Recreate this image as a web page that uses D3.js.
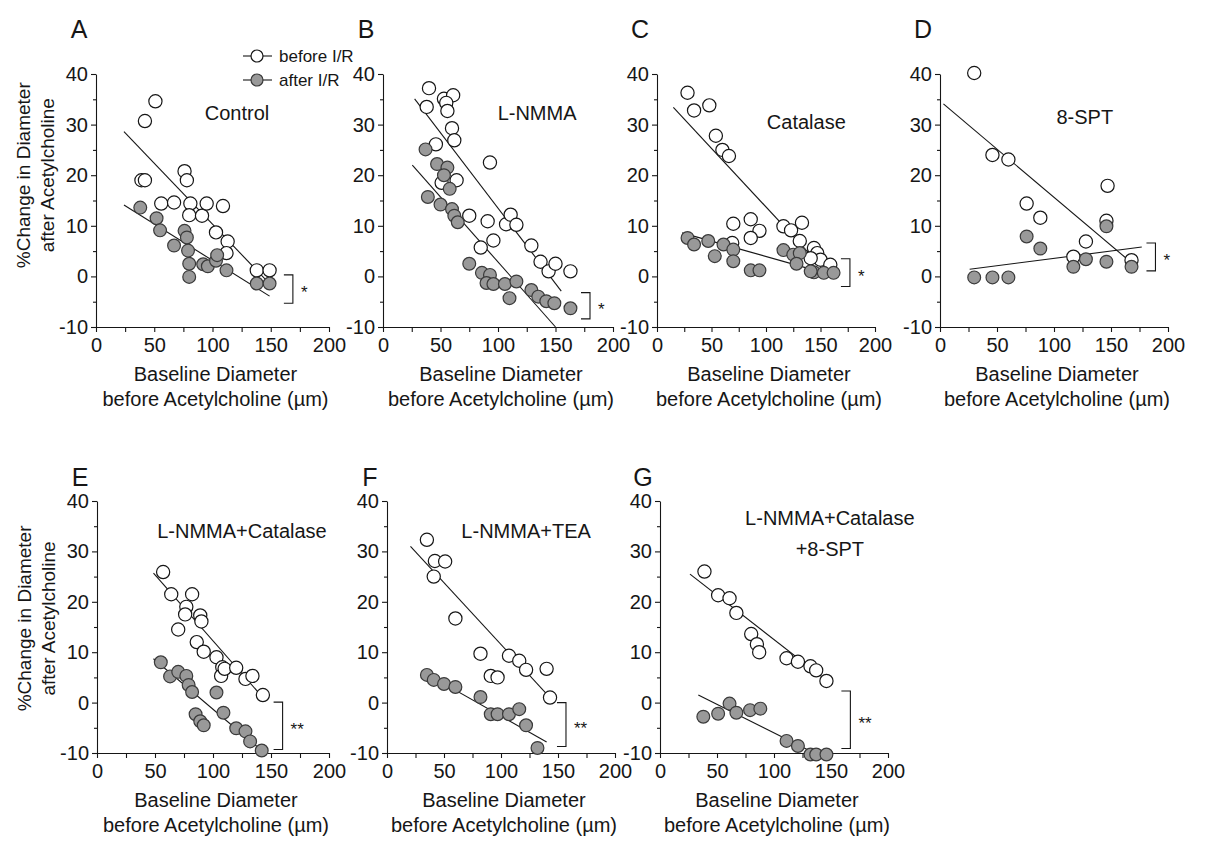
<!DOCTYPE html>
<html><head><meta charset="utf-8">
<script src="https://cdn.jsdelivr.net/npm/d3@7"></script>
<style>
body{margin:0;background:#fff;}
svg{font-family:"Liberation Sans",Arial,Helvetica,sans-serif;}
</style></head><body>
<svg id="chart" width="1215" height="850"></svg>
<script>
// ---------------- DATA ----------------
const panelLetters = ["A","B","C","D","E","F","G"];
const panelNames = [["Control"],["L-NMMA"],["Catalase"],["8-SPT"],["L-NMMA+Catalase"],["L-NMMA+TEA"],["L-NMMA+Catalase","+8-SPT"]];
const seriesNames = ["before I/R","after I/R"];
const xTickLabels = [0,50,100,150,200];
const yTickLabels = [-10,0,10,20,30,40];
const significance = ["*","*","*","*","**","**","**"];

// [baseline diameter (µm), % change]
const beforeA = [[51,34.6],[42,30.7],[39,19],[42,19],[56,14.4],[67,14.6],[76,20.8],[78,19],[81,14.4],[80,12.1],[91,12],[95,14.4],[109,13.9],[103,8.7],[113,6.9],[112,4.6],[138,1.2],[149,1.2]];
const afterA  = [[38,13.6],[52,11.5],[55,9.1],[67,6.1],[76,9],[78,7.7],[79,5.1],[80,2.5],[80,-0.1],[92,2.4],[96,2],[103,3.1],[104,4.2],[112,1.2],[138,-1.4],[149,-1.4]];
const beforeB = [[40,37.2],[38,33.5],[53,35.1],[61,35.8],[55,34.3],[56,32.7],[60,29.3],[62,26.9],[46,26.1],[93,22.5],[51,18.5],[64,19],[75,12],[91,10.9],[96,7.1],[85,5.7],[107,10.3],[111,12.2],[116,10.2],[129,6.1],[137,2.9],[144,1],[150,2.5],[163,1]];
const afterB  = [[37,25.1],[47,22.2],[56,21.5],[53,20],[58,17.3],[39,15.7],[50,14.2],[60,13.3],[62,12],[65,10.7],[75,2.5],[86,0.7],[93,0.3],[90,-1.3],[96,-1.5],[106,-1.5],[116,-1],[110,-4.3],[129,-2.7],[135,-4],[142,-4.9],[149,-5.3],[163,-6.3]];
const beforeC = [[28,36.3],[34,32.8],[48,33.8],[54,27.8],[60,25],[66,23.8],[70,10.4],[86,11.3],[94,9],[86,7.6],[69,6.6],[116,9.9],[123,9.1],[133,10.6],[131,7],[144,5.6],[147,4.6],[150,3.3],[159,2.3],[141,3.6]];
const afterC  = [[28,7.6],[34,6.3],[47,7],[53,4],[61,6.3],[70,5.3],[70,3],[86,1.2],[94,1.2],[116,5.2],[125,4.3],[131,4.6],[128,2.5],[144,0.8],[153,0.7],[162,0.7],[141,1]];
const beforeD = [[30,40.2],[46,24],[60,23.1],[76,14.4],[88,11.6],[147,17.9],[146,11],[128,6.9],[117,3.9],[168,3.2]];
const afterD  = [[30,-0.2],[46,-0.2],[60,-0.2],[76,7.9],[88,5.5],[146,9.9],[146,2.9],[128,3.4],[117,1.9],[168,1.9]];
const beforeE = [[57,25.9],[64,21.5],[82,21.5],[77,19],[76,17.5],[70,14.5],[89,17.3],[90,16.1],[86,12],[92,10.1],[103,9],[108,7],[107,5.3],[110,6.7],[120,6.9],[128,4.7],[134,5.3],[143,1.5]];
const afterE  = [[55,8],[63,5.2],[70,6.1],[77,5.3],[79,3.5],[82,2.1],[103,2],[85,-2.3],[89,-3.7],[92,-4.5],[109,-2],[120,-5.1],[128,-5.7],[132,-7.7],[142,-9.5]];
const beforeF = [[35,32.3],[42,28.1],[51,28],[41,25],[60,16.7],[82,9.7],[91,5.3],[97,5],[107,9.3],[116,8.3],[122,6.5],[140,6.7],[143,1]];
const afterF  = [[35,5.5],[41,4.5],[50,3.7],[60,3.1],[82,1.1],[91,-2.3],[97,-2.3],[107,-2.3],[116,-1.3],[122,-4.5],[132,-9]];
const beforeG = [[39,26],[51,21.3],[61,20.7],[67,17.8],[80,13.6],[85,11.6],[87,10],[111,8.8],[121,8.1],[132,7.2],[137,6.4],[146,4.3]];
const afterG  = [[38,-2.8],[51,-2.2],[61,-0.2],[67,-2],[79,-1.5],[88,-1.2],[111,-7.6],[121,-8.6],[132,-10.3],[137,-10.3],[146,-10.3]];

// regression lines: [[x1,y1],[x2,y2]]
const fitBefore = [[[24,28.6],[145,-0.5]],[[27.5,35.1],[155,-2.9]],[[15,33.4],[145,3.3]],[[3,34.1],[168,2.7]],[[48.7,25.7],[143,1]],[[20.6,31],[145,0.5]],[[26.3,25.5],[146,4.4]]];
const fitAfter  = [[[24,14.1],[149,-3.9]],[[25.5,22],[150,-10]],[[23,8.6],[150,0.9]],[[26,1.4],[177,5.8]],[[48.7,8.7],[143,-9.7]],[[34.7,5.7],[140,-7.8]],[[33.6,1.5],[137,-10.2]]];
// significance brackets: [x, yTop, yBottom]
const brackets = [[169,0.3,-5.3],[180,-3.2,-8.4],[177,3.5,-2],[189,6.6,1.1],[160,0.1,-9.3],[157,0,-8.7],[167,2.3,-9.1]];

const beforeSets = [beforeA,beforeB,beforeC,beforeD,beforeE,beforeF,beforeG];
const afterSets  = [afterA,afterB,afterC,afterD,afterE,afterF,afterG];

// ---------------- LAYOUT ----------------
const layout = [
  {x0:96,  x1:329, yt:74,  yb:327, name:[121,32.3], yTitle:20, letterY:38},
  {x0:383, x1:613, yt:74,  yb:327, name:[134,32.3], letterY:38},
  {x0:657, x1:875, yt:74,  yb:327, name:[137,30.6], letterY:38},
  {x0:940, x1:1168,yt:74,  yb:327, name:[127,31.5], letterY:38},
  {x0:97,  x1:329, yt:501, yb:753, name:[125,34.1], yTitle:16.7, letterY:486},
  {x0:387, x1:615, yt:501, yb:753, name:[122,34.1], letterY:486},
  {x0:660, x1:888, yt:501, yb:753, name:[149,36.7], letterY:486}
];
const ink = "#161616";
const svg = d3.select("#chart");

panelLetters.forEach((letter, i) => {
  const L = layout[i];
  const x = d3.scaleLinear().domain([0,200]).range([L.x0, L.x1]);
  const y = d3.scaleLinear().domain([-10,40]).range([L.yb, L.yt]);
  const g = svg.append("g");

  // axes
  const xa = g.append("g").attr("transform", `translate(0,${L.yb})`)
    .call(d3.axisBottom(x).tickValues(d3.range(0,201,25))
      .tickFormat(d => xTickLabels.includes(d) ? d : "")
      .tickSize(5).tickSizeOuter(0).tickPadding(6));
  const ya = g.append("g").attr("transform", `translate(${L.x0},0)`)
    .call(d3.axisLeft(y).tickValues(d3.range(-10,41,5))
      .tickFormat(d => yTickLabels.includes(d) ? d : "")
      .tickSize(5).tickSizeOuter(0).tickPadding(3));
  ya.selectAll(".tick").filter(d => d % 10 !== 0).select("line").attr("x2", -3);
  [xa, ya].forEach(a => {
    a.select(".domain").attr("stroke", ink).attr("stroke-width", 1.1);
    a.selectAll(".tick line").attr("stroke", ink).attr("stroke-width", 1.1);
    a.selectAll(".tick text").attr("font-size", 20).attr("fill", ink).attr("font-family", null);
  });

  // x-axis title
  const xc = (L.x0 + L.x1) / 2 + 3;
  g.append("text").attr("x", xc).attr("y", L.yb + 54).attr("text-anchor","middle")
    .attr("font-size", 20).attr("fill", ink).text("Baseline Diameter");
  g.append("text").attr("x", xc).attr("y", L.yb + 79).attr("text-anchor","middle")
    .attr("font-size", 20).attr("fill", ink).text("before Acetylcholine (µm)");

  // y-axis title (first column)
  if (L.yTitle !== undefined) {
    const cy = y(L.yTitle);
    const t = g.append("text").attr("transform", `translate(${L.x0 - 66},${cy}) rotate(-90)`)
      .attr("text-anchor","middle").attr("font-size", 19).attr("fill", ink);
    t.append("tspan").attr("x",0).attr("dy",0).text("%Change in Diameter");
    t.append("tspan").attr("x",0).attr("dy",24).text("after Acetylcholine");
  }

  // panel letter
  g.append("text").attr("x", L.x0 - 17).attr("y", L.letterY)
    .attr("text-anchor","middle").attr("font-size", 25).attr("fill", ink).text(letter);

  // panel name
  const nm = g.append("text").attr("text-anchor","middle").attr("font-size", 20).attr("fill", ink);
  panelNames[i].forEach((line, k) => {
    nm.append("tspan").attr("x", x(L.name[0])).attr("y", y(L.name[1]) + 7 + k * 31).text(line);
  });

  // fit lines
  const lineGen = d3.line().x(d => x(d[0])).y(d => y(d[1]));
  [fitBefore[i], fitAfter[i]].forEach(f => {
    g.append("path").attr("d", lineGen(f)).attr("fill","none").attr("stroke", ink).attr("stroke-width", 1.1);
  });

  // points
  g.append("g").selectAll("circle").data(beforeSets[i]).join("circle")
    .attr("cx", d => x(d[0])).attr("cy", d => y(d[1])).attr("r", 6.6)
    .attr("fill", "#fff").attr("stroke", ink).attr("stroke-width", 1.2);
  g.append("g").selectAll("circle").data(afterSets[i]).join("circle")
    .attr("cx", d => x(d[0])).attr("cy", d => y(d[1])).attr("r", 6.4)
    .attr("fill", "#999").attr("stroke", "#3a3a3a").attr("stroke-width", 1.2);

  // significance bracket
  const b = brackets[i];
  const bx = x(b[0]);
  g.append("path").attr("d", `M${bx-9},${y(b[1])}H${bx}V${y(b[2])}H${bx-9}`)
    .attr("fill","none").attr("stroke", ink).attr("stroke-width", 1.1);
  g.append("text").attr("x", bx + 8).attr("y", (y(b[1]) + y(b[2])) / 2 + 9)
    .attr("font-size", 17).attr("fill", ink).text(significance[i]);
});

// legend
const leg = svg.append("g");
seriesNames.forEach((s, k) => {
  const cy = 56 + k * 24;
  leg.append("line").attr("x1", 243).attr("x2", 272).attr("y1", cy).attr("y2", cy)
    .attr("stroke", ink).attr("stroke-width", 1.1);
  leg.append("circle").attr("cx", 257).attr("cy", cy).attr("r", 6)
    .attr("fill", k === 0 ? "#fff" : "#999").attr("stroke", k === 0 ? ink : "#3a3a3a").attr("stroke-width", 1.2);
  leg.append("text").attr("x", 279).attr("y", cy + 6).attr("font-size", 17).attr("fill", ink).text(s);
});
</script>
</body></html>
